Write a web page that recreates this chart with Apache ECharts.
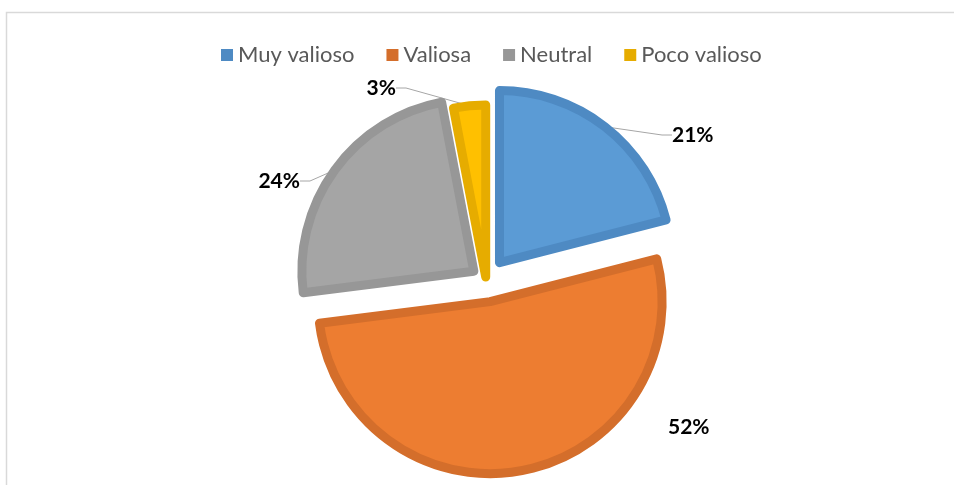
<!DOCTYPE html>
<html>
<head>
<meta charset="utf-8">
<script src="https://cdn.jsdelivr.net/npm/echarts@6/dist/echarts.min.js"></script>
<style>
  html, body { margin: 0; padding: 0; background: #fff; }
  #chart { width: 954px; height: 485px; }
</style>
</head>
<body>
<div id="chart"></div>
<script>
// --- data ---
const categories = ['Muy valioso', 'Valiosa', 'Neutral', 'Poco valioso'];
const shares     = [21, 52, 24, 3];

// --- styling / layout ---
const fillColors = ['#5B9BD5', '#ED7D31', '#A5A5A5', '#FFC000'];
const edgeColors = ['#4E8AC3', '#D46E2B', '#979797', '#E6AC00'];
const explodePx  = [22, 22, 15, 3];
const pieCenter  = [486, 280];
const pieRadius  = 172;
// where each data label sits: [x, y, align]
const labelSpots = [[667, 135, 'left'], [663, 427, 'left'], [305, 181, 'right'], [401, 88, 'right']];

const chart = echarts.init(document.getElementById('chart'));

// Excel-style exploded pie: one series per slice, each shifted out along
// its own mid angle; the other slices in that series are left invisible.
const total = shares.reduce((a, b) => a + b, 0);
let cum = 0;
const series = categories.map((cat, k) => {
  const mid = (cum + shares[k] / 2) / total * 2 * Math.PI;
  cum += shares[k];
  const cx = pieCenter[0] + explodePx[k] * Math.sin(mid);
  const cy = pieCenter[1] - explodePx[k] * Math.cos(mid);
  return {
    type: 'pie',
    name: cat,
    center: [cx, cy],
    radius: pieRadius,
    startAngle: 90,
    clockwise: true,
    silent: true,
    avoidLabelOverlap: false,
    emphasis: { disabled: true },
    label: {
      position: 'outside',
      formatter: '{c}%',
      fontFamily: 'Lato',
      fontWeight: 'bold',
      fontSize: 21,
      color: '#000',
      padding: [0, 5, 10, 5]
    },
    labelLine: {
      length: 15,
      length2: 10,
      smooth: false,
      lineStyle: { color: '#A6A6A6', width: 1 }
    },
    labelLayout: function (p) {
      if (p.dataIndex !== k) return {};
      const s = labelSpots[k];
      return { x: s[0], y: s[1], align: s[2], verticalAlign: 'middle' };
    },
    data: categories.map((name, i) => ({
      name,
      value: shares[i],
      itemStyle: i === k
        ? { color: fillColors[i], borderColor: edgeColors[i], borderWidth: 9 }
        : { color: 'rgba(0,0,0,0)', borderWidth: 0 },
      label: { show: i === k },
      labelLine: { show: i === k && i !== 1 }
    }))
  };
});

chart.setOption({
  animation: false,
  graphic: [{
    type: 'rect',
    shape: { x: 6.5, y: 12.5, width: 1000, height: 500 },
    style: { fill: 'none', stroke: '#d9d9d9', lineWidth: 1.5 },
    silent: true
  }],
  legend: {
    data: categories.map((name, i) => ({
      name,
      itemStyle: { color: edgeColors[i], borderWidth: 0 }
    })),
    left: 216,
    top: 39,
    icon: 'rect',
    itemWidth: 12,
    itemHeight: 12,
    itemGap: 32,
    selectedMode: false,
    textStyle: { fontFamily: 'Lato', fontSize: 22, color: '#595959' }
  },
  series: series
});
</script>
</body>
</html>
